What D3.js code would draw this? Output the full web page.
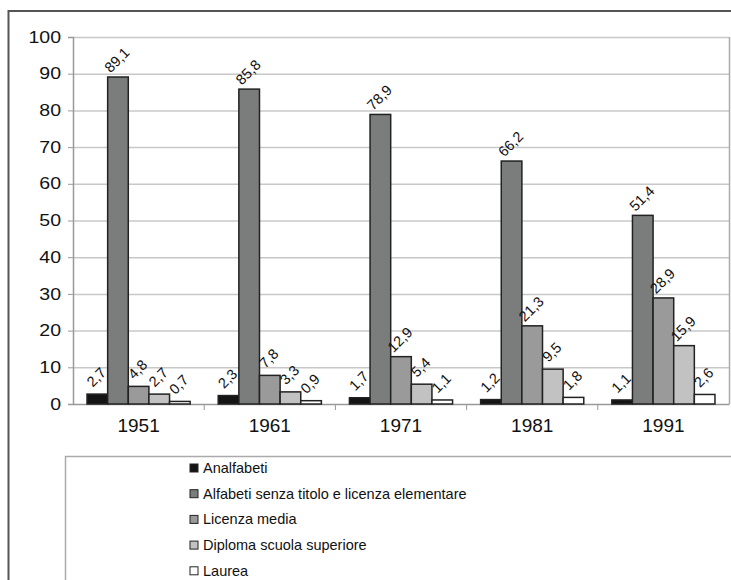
<!DOCTYPE html>
<html>
<head>
<meta charset="utf-8">
<script src="https://cdn.jsdelivr.net/npm/d3@7"></script>
<style>
  body { margin: 0; background: #fff; }
  svg text { font-family: "Liberation Sans", Arial, sans-serif; fill: #111; }
</style>
</head>
<body>
<div id="chart-area"></div>
<script>
var years = ["1951", "1961", "1971", "1981", "1991"];
var seriesNames = ["Analfabeti", "Alfabeti senza titolo e licenza elementare", "Licenza media", "Diploma scuola superiore", "Laurea"];
var analfabeti = [2.7, 2.3, 1.7, 1.2, 1.1];
var alfabeti = [89.1, 85.8, 78.9, 66.2, 51.4];
var licenzaMedia = [4.8, 7.8, 12.9, 21.3, 28.9];
var diploma = [2.7, 3.3, 5.4, 9.5, 15.9];
var laurea = [0.7, 0.9, 1.1, 1.8, 2.6];
var yTicks = [0, 10, 20, 30, 40, 50, 60, 70, 80, 90, 100];
var fills = ["#141414", "#7b7c7c", "#9a9a9a", "#c2c2c2", "#ffffff"];

var seriesValues = [analfabeti, alfabeti, licenzaMedia, diploma, laurea];

var width = 731, height = 580;
var plot = {left: 73, right: 729, top: 37, bottom: 404};

var svg = d3.select("#chart-area")
    .append("svg")
    .attr("width", width)
    .attr("height", height);

// outer frame (runs off the page on the right and bottom)
svg.append("rect")
    .attr("x", 8.5).attr("y", 11)
    .attr("width", 760).attr("height", 620)
    .attr("fill", "none")
    .attr("stroke", "#555")
    .attr("stroke-width", 2);

var x0 = d3.scaleBand()
    .domain(years)
    .range([plot.left, plot.right]);

var x1 = d3.scaleBand()
    .domain(d3.range(seriesNames.length))
    .range([0, x0.bandwidth()])
    .paddingOuter(0.68);

var y = d3.scaleLinear()
    .domain([0, 100])
    .range([plot.bottom, plot.top]);

// gridlines
svg.append("g")
    .selectAll("line")
    .data(yTicks.slice(1))
    .enter()
    .append("line")
    .attr("x1", plot.left).attr("x2", plot.right)
    .attr("y1", function (d) { return y(d) + 0.5; })
    .attr("y2", function (d) { return y(d) + 0.5; })
    .attr("stroke", "#c8c8c8")
    .attr("stroke-width", 1.5);

// right border of plot area
svg.append("line")
    .attr("x1", plot.right + 0.5).attr("x2", plot.right + 0.5)
    .attr("y1", plot.top).attr("y2", plot.bottom)
    .attr("stroke", "#aaa")
    .attr("stroke-width", 1.5);

// y axis
var yAxis = svg.append("g")
    .attr("transform", "translate(" + plot.left + ",0)")
    .call(d3.axisLeft(y).tickValues(yTicks).tickSize(5));
yAxis.select(".domain").attr("stroke", "#999").attr("stroke-width", 1.5);
yAxis.selectAll(".tick line").attr("stroke", "#999");
// the labels in the picture are drawn a bit wide
yAxis.selectAll("text")
    .attr("x", 0)
    .attr("transform", "translate(-12,0) scale(1.22,1)")
    .style("font-size", "16px")
    .attr("fill", "#111");

// x axis
var xAxis = svg.append("g")
    .attr("transform", "translate(0," + plot.bottom + ")")
    .call(d3.axisBottom(x0).tickSize(0).tickPadding(15));
xAxis.select(".domain").attr("stroke", "#999").attr("stroke-width", 1.5);
xAxis.selectAll("text")
    .style("font-size", "19px")
    .attr("fill", "#111");

// category separator ticks
svg.append("g")
    .selectAll("line")
    .data(years.slice(1))
    .enter()
    .append("line")
    .attr("x1", function (d) { return x0(d); })
    .attr("x2", function (d) { return x0(d); })
    .attr("y1", plot.bottom).attr("y2", plot.bottom + 6)
    .attr("stroke", "#999");

// bars
var groups = svg.append("g")
    .selectAll("g")
    .data(years)
    .enter()
    .append("g")
    .attr("transform", function (d) { return "translate(" + x0(d) + ",0)"; });

groups.selectAll("rect")
    .data(function (d, i) {
        return seriesValues.map(function (vals, s) { return {s: s, v: vals[i]}; });
    })
    .enter()
    .append("rect")
    .attr("x", function (d) { return x1(d.s); })
    .attr("y", function (d) { return y(d.v); })
    .attr("width", x1.bandwidth())
    .attr("height", function (d) { return y(0) - y(d.v); })
    .attr("fill", function (d) { return fills[d.s]; })
    .attr("stroke", "#222")
    .attr("stroke-width", 1.5);

// value labels, rotated
groups.selectAll("text.val")
    .data(function (d, i) {
        return seriesValues.map(function (vals, s) { return {s: s, v: vals[i]}; });
    })
    .enter()
    .append("text")
    .attr("class", "val")
    .attr("transform", function (d) {
        var cx = x1(d.s) + x1.bandwidth() / 2 - 1;
        var cy = y(d.v) - 17;
        return "translate(" + cx + "," + cy + ") rotate(-45)";
    })
    .attr("text-anchor", "middle")
    .attr("dy", "0.35em")
    .style("font-size", "14.5px")
    .text(function (d) { return String(d.v).replace(".", ","); });

// legend box
svg.append("rect")
    .attr("x", 65.5).attr("y", 456.5)
    .attr("width", 700).attr("height", 200)
    .attr("fill", "#fff")
    .attr("stroke", "#aaa")
    .attr("stroke-width", 1.5);

var legend = svg.append("g")
    .selectAll("g")
    .data(seriesNames)
    .enter()
    .append("g")
    .attr("transform", function (d, i) { return "translate(190," + (468 + i * 25.7) + ")"; });

legend.append("rect")
    .attr("x", 0).attr("y", -4)
    .attr("width", 8).attr("height", 8)
    .attr("fill", function (d, i) { return fills[i]; })
    .attr("stroke", "#222")
    .attr("stroke-width", 1);

legend.append("text")
    .attr("x", 13)
    .attr("dy", "0.35em")
    .style("font-size", "14.5px")
    .text(function (d) { return d; });
</script>
</body>
</html>
